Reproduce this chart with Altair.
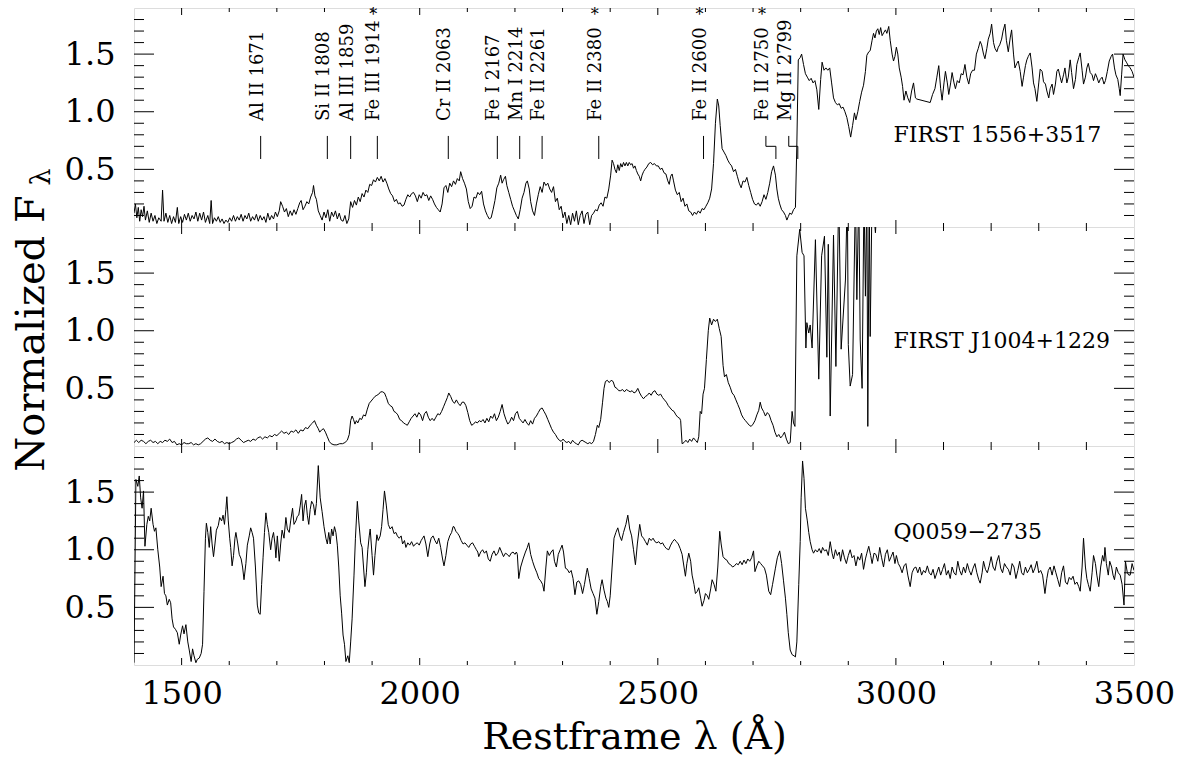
import altair as alt
import pandas as pd

# ---------------- data ----------------
spec1 = [
(1400,0.12),(1403,0.20),(1406,0.08),(1409,0.17),(1412,0.05),(1415,0.15),(1418,0.09),(1421,0.18),(1424,0.06),(1428,0.14),
(1432,0.04),(1436,0.12),(1440,0.05),(1444,0.10),(1448,0.03),(1452,0.08),(1457,0.05),(1460,0.32),(1463,0.05),(1467,0.12),
(1471,0.04),(1475,0.10),(1479,0.03),(1483,0.09),(1487,0.04),(1491,0.17),(1494,0.03),(1498,0.09),(1502,0.04),(1506,0.11),
(1510,0.06),(1514,0.12),(1518,0.05),(1522,0.10),(1526,0.07),(1530,0.13),(1534,0.05),(1538,0.12),(1542,0.06),(1546,0.13),
(1550,0.04),(1555,0.10),(1559,0.03),(1562,0.23),(1565,0.03),(1569,0.08),(1573,0.05),(1577,0.09),(1581,0.04),(1585,0.07),
(1589,0.03),(1593,0.06),(1597,0.04),(1601,0.08),(1605,0.05),(1609,0.10),(1613,0.05),(1617,0.09),(1621,0.06),(1625,0.11),
(1629,0.05),(1633,0.10),(1637,0.07),(1641,0.12),(1645,0.05),(1649,0.09),(1653,0.06),(1657,0.11),(1661,0.05),(1665,0.10),
(1669,0.06),(1673,0.09),(1677,0.04),(1681,0.12),(1685,0.06),(1689,0.10),(1693,0.07),(1697,0.13),(1701,0.09),(1705,0.14),
(1708,0.22),(1712,0.18),(1716,0.13),(1720,0.16),(1724,0.09),(1728,0.14),(1732,0.10),(1736,0.15),(1740,0.11),(1744,0.16),
(1748,0.21),(1751,0.23),(1755,0.15),(1759,0.18),(1763,0.22),(1767,0.20),(1771,0.26),(1775,0.30),(1777,0.36),(1780,0.27),
(1783,0.24),(1787,0.14),(1791,0.10),(1795,0.06),(1799,0.13),(1803,0.08),(1807,0.15),(1811,0.05),(1815,0.13),(1819,0.09),
(1823,0.14),(1827,0.07),(1831,0.12),(1835,0.06),(1839,0.05),(1843,0.10),(1847,0.03),(1851,0.07),(1855,0.22),(1859,0.17),
(1863,0.23),(1867,0.19),(1871,0.26),(1875,0.22),(1879,0.29),(1883,0.26),(1887,0.32),(1891,0.30),(1895,0.37),(1899,0.36),
(1903,0.41),(1907,0.39),(1911,0.43),(1915,0.40),(1919,0.44),(1923,0.39),(1927,0.42),(1931,0.38),(1935,0.33),(1939,0.29),
(1943,0.27),(1947,0.22),(1951,0.24),(1955,0.20),(1959,0.21),(1963,0.18),(1967,0.19),(1971,0.24),(1975,0.28),(1979,0.26),
(1983,0.29),(1987,0.30),(1991,0.27),(1995,0.22),(1999,0.28),(2003,0.25),(2007,0.30),(2011,0.27),(2015,0.28),(2019,0.23),
(2023,0.27),(2027,0.24),(2031,0.20),(2035,0.17),(2039,0.15),(2043,0.13),(2047,0.20),(2051,0.34),(2055,0.36),(2059,0.30),
(2063,0.38),(2067,0.35),(2071,0.40),(2075,0.37),(2079,0.42),(2083,0.40),(2086,0.48),(2090,0.42),(2094,0.38),(2098,0.33),
(2102,0.22),(2106,0.16),(2110,0.18),(2114,0.26),(2118,0.25),(2122,0.30),(2126,0.28),(2130,0.31),(2134,0.20),(2138,0.14),
(2142,0.10),(2146,0.07),(2150,0.08),(2154,0.15),(2158,0.23),(2162,0.34),(2166,0.38),(2170,0.45),(2173,0.38),(2176,0.41),
(2180,0.44),(2183,0.36),(2187,0.30),(2191,0.24),(2195,0.18),(2199,0.14),(2203,0.10),(2207,0.07),(2211,0.15),(2215,0.25),
(2219,0.30),(2223,0.38),(2226,0.40),(2230,0.33),(2233,0.22),(2237,0.14),(2241,0.10),(2245,0.20),(2249,0.28),(2253,0.35),
(2257,0.30),(2261,0.39),(2265,0.36),(2269,0.38),(2273,0.33),(2277,0.30),(2281,0.35),(2285,0.22),(2289,0.25),(2293,0.15),
(2297,0.18),(2301,0.08),(2305,0.13),(2309,0.03),(2313,0.10),(2317,0.02),(2321,0.12),(2325,0.05),(2329,0.14),(2333,0.02),
(2337,0.10),(2341,0.14),(2345,0.03),(2349,0.11),(2353,0.13),(2357,0.02),(2361,0.10),(2365,0.12),(2369,0.15),(2373,0.14),
(2377,0.19),(2381,0.21),(2385,0.18),(2389,0.26),(2393,0.25),(2397,0.33),(2401,0.45),(2404,0.58),(2407,0.55),(2410,0.50),
(2413,0.47),(2416,0.54),(2419,0.49),(2422,0.55),(2425,0.52),(2428,0.56),(2431,0.53),(2434,0.56),(2437,0.53),(2440,0.56),
(2443,0.54),(2446,0.55),(2449,0.51),(2452,0.53),(2455,0.49),(2458,0.46),(2461,0.44),(2464,0.40),(2467,0.45),(2470,0.48),
(2473,0.50),(2477,0.52),(2481,0.55),(2485,0.56),(2489,0.54),(2493,0.55),(2497,0.53),(2501,0.53),(2505,0.50),(2509,0.51),
(2513,0.47),(2517,0.46),(2521,0.40),(2524,0.37),(2527,0.44),(2530,0.46),(2533,0.40),(2537,0.32),(2541,0.28),(2545,0.30),
(2549,0.22),(2553,0.25),(2557,0.18),(2561,0.20),(2565,0.14),(2569,0.13),(2573,0.10),(2577,0.13),(2581,0.11),(2585,0.14),
(2589,0.12),(2593,0.16),(2597,0.15),(2601,0.18),(2605,0.21),(2609,0.25),(2613,0.33),(2617,0.55),(2621,0.90),(2625,1.11),
(2628,1.05),(2631,0.88),(2635,0.68),(2639,0.65),(2643,0.62),(2647,0.58),(2651,0.55),(2655,0.53),(2659,0.48),(2663,0.50),
(2667,0.44),(2671,0.38),(2675,0.34),(2679,0.40),(2683,0.39),(2687,0.43),(2691,0.36),(2695,0.30),(2699,0.24),(2703,0.20),
(2707,0.19),(2711,0.21),(2715,0.18),(2719,0.22),(2723,0.28),(2727,0.24),(2731,0.30),(2735,0.38),(2739,0.48),(2743,0.53),
(2747,0.45),(2750,0.33),(2753,0.25),(2756,0.20),(2760,0.15),(2764,0.13),(2768,0.10),(2771,0.06),(2774,0.09),(2777,0.12),
(2781,0.11),(2785,0.15),(2789,0.17),(2792,0.72),(2795,1.45),(2799,1.47),(2802,1.50),(2806,1.41),(2810,1.33),(2814,1.30),
(2818,1.27),(2822,1.29),(2826,1.25),(2830,1.27),(2834,1.19),(2838,1.02),(2842,1.28),(2845,1.43),(2849,1.36),(2853,1.38),
(2857,1.36),(2861,1.38),(2865,1.25),(2869,1.12),(2873,1.08),(2877,1.06),(2881,1.07),(2885,1.03),(2889,1.04),(2893,1.00),
(2897,0.95),(2901,0.87),(2905,0.78),(2909,0.88),(2913,0.99),(2916,0.93),(2920,1.00),(2924,1.09),(2928,1.17),(2932,1.23),
(2936,1.35),(2939,1.49),(2943,1.52),(2946,1.53),(2950,1.62),(2953,1.68),(2956,1.64),(2959,1.70),(2962,1.72),(2965,1.67),
(2968,1.73),(2971,1.66),(2975,1.69),(2978,1.71),(2981,1.68),(2985,1.74),(2988,1.62),(2992,1.50),(2995,1.44),(2998,1.48),
(3001,1.56),(3004,1.50),(3007,1.38),(3011,1.30),(3014,1.22),(3017,1.10),(3021,1.18),(3025,1.12),(3029,1.08),(3033,1.18),
(3037,1.25),(3041,1.12),(3044,1.11),(3072,1.08),(3077,1.15),(3082,1.20),(3086,1.30),(3090,1.40),(3094,1.20),(3097,1.10),
(3101,1.25),(3104,1.35),(3108,1.25),(3111,1.15),(3115,1.25),(3118,1.34),(3122,1.25),(3125,1.20),(3129,1.27),(3133,1.25),
(3137,1.33),(3141,1.32),(3145,1.41),(3149,1.30),(3153,1.24),(3157,1.33),(3161,1.36),(3165,1.36),(3169,1.50),(3173,1.55),
(3177,1.61),(3180,1.58),(3184,1.50),(3187,1.46),(3191,1.55),(3194,1.63),(3198,1.68),(3201,1.76),(3205,1.60),(3208,1.55),
(3212,1.52),(3215,1.56),(3218,1.58),(3222,1.63),(3225,1.70),(3229,1.76),(3232,1.62),(3236,1.52),(3240,1.64),(3243,1.71),
(3247,1.50),(3250,1.38),(3254,1.42),(3257,1.44),(3261,1.35),(3265,1.22),(3268,1.30),(3272,1.40),(3275,1.45),(3278,1.48),
(3282,1.51),(3286,1.38),(3289,1.25),(3292,1.20),(3296,1.09),(3300,1.25),(3303,1.37),(3307,1.35),(3310,1.26),(3314,1.24),
(3317,1.18),(3321,1.12),(3324,1.20),(3328,1.24),(3331,1.15),(3335,1.24),(3338,1.35),(3341,1.37),(3345,1.30),(3348,1.25),
(3352,1.32),(3355,1.38),(3359,1.25),(3362,1.30),(3366,1.45),(3369,1.34),(3373,1.20),(3377,1.28),(3380,1.41),(3384,1.47),
(3387,1.51),(3391,1.36),(3394,1.24),(3398,1.30),(3401,1.38),(3404,1.42),(3408,1.34),(3412,1.32),(3415,1.27),(3419,1.33),
(3422,1.30),(3426,1.25),(3429,1.28),(3433,1.30),(3437,1.24),(3440,1.27),(3444,1.35),(3448,1.44),(3452,1.48),(3455,1.50),
(3459,1.38),(3462,1.32),(3466,1.28),(3469,1.20),(3471,1.14),(3474,1.32),(3477,1.50),(3481,1.45),(3484,1.43),(3488,1.40),
(3492,1.38),(3496,1.35),(3500,1.30),
]

spec2 = [
(1400,0.03),(1405,0.05),(1410,0.03),(1415,0.05),(1420,0.04),(1425,0.02),(1430,0.04),(1435,0.05),(1440,0.03),(1445,0.04),
(1450,0.02),(1455,0.04),(1460,0.03),(1465,0.05),(1470,0.04),(1475,0.06),(1480,0.03),(1485,0.04),(1490,0.01),(1495,0.02),
(1500,0.01),(1505,0.03),(1510,0.02),(1515,0.02),(1520,0.03),(1525,0.01),(1530,0.02),(1535,0.01),(1540,0.02),(1545,0.04),
(1550,0.06),(1555,0.07),(1560,0.05),(1565,0.04),(1570,0.06),(1575,0.04),(1580,0.03),(1585,0.04),(1590,0.02),(1595,0.03),
(1600,0.02),(1605,0.03),(1610,0.04),(1615,0.06),(1620,0.07),(1625,0.05),(1630,0.03),(1635,0.04),(1640,0.05),(1645,0.04),
(1650,0.06),(1655,0.05),(1660,0.07),(1665,0.08),(1670,0.06),(1675,0.08),(1680,0.07),(1685,0.09),(1690,0.08),(1695,0.10),
(1700,0.09),(1705,0.11),(1710,0.13),(1715,0.11),(1720,0.12),(1725,0.10),(1730,0.13),(1735,0.12),(1740,0.14),(1745,0.11),
(1750,0.14),(1755,0.13),(1760,0.16),(1765,0.15),(1770,0.18),(1775,0.20),(1779,0.22),(1783,0.18),(1787,0.15),(1790,0.12),
(1794,0.14),(1798,0.15),(1802,0.12),(1806,0.08),(1810,0.04),(1814,0.02),(1820,0.01),(1826,0.01),(1832,0.02),(1838,0.02),
(1843,0.03),(1848,0.05),(1852,0.10),(1855,0.22),(1858,0.26),(1861,0.23),(1864,0.19),(1867,0.22),(1870,0.20),(1874,0.24),
(1878,0.23),(1882,0.27),(1886,0.26),(1890,0.32),(1894,0.37),(1898,0.39),(1902,0.41),(1906,0.43),(1910,0.44),(1914,0.45),
(1918,0.47),(1922,0.47),(1926,0.46),(1930,0.42),(1934,0.37),(1938,0.35),(1942,0.34),(1946,0.30),(1950,0.29),(1954,0.27),
(1958,0.23),(1962,0.22),(1966,0.20),(1970,0.19),(1974,0.18),(1978,0.21),(1982,0.24),(1986,0.26),(1990,0.28),(1994,0.25),
(1998,0.29),(2002,0.27),(2006,0.22),(2010,0.28),(2014,0.30),(2018,0.25),(2022,0.22),(2026,0.24),(2030,0.22),(2034,0.25),
(2038,0.28),(2042,0.27),(2046,0.30),(2050,0.34),(2054,0.38),(2058,0.42),(2061,0.46),(2065,0.43),(2069,0.39),(2073,0.37),
(2077,0.40),(2081,0.37),(2085,0.35),(2089,0.38),(2093,0.38),(2097,0.35),(2101,0.29),(2105,0.22),(2109,0.18),(2113,0.19),
(2117,0.21),(2121,0.20),(2125,0.22),(2129,0.21),(2133,0.23),(2137,0.20),(2141,0.24),(2145,0.21),(2149,0.26),(2153,0.24),
(2157,0.28),(2161,0.22),(2165,0.25),(2169,0.30),(2173,0.36),(2177,0.28),(2181,0.23),(2185,0.19),(2189,0.21),(2193,0.25),
(2197,0.22),(2201,0.28),(2205,0.30),(2209,0.24),(2213,0.22),(2217,0.20),(2221,0.23),(2225,0.20),(2229,0.18),(2233,0.22),
(2237,0.19),(2241,0.24),(2245,0.26),(2249,0.29),(2253,0.32),(2257,0.33),(2261,0.30),(2265,0.27),(2269,0.23),(2273,0.19),
(2277,0.15),(2281,0.12),(2285,0.10),(2289,0.07),(2293,0.05),(2297,0.04),(2301,0.06),(2305,0.04),(2309,0.03),(2313,0.04),
(2317,0.02),(2321,0.05),(2325,0.03),(2329,0.02),(2333,0.01),(2337,0.04),(2341,0.05),(2345,0.04),(2349,0.03),(2353,0.02),
(2357,0.03),(2361,0.02),(2365,0.04),(2369,0.10),(2373,0.18),(2376,0.16),(2380,0.23),(2384,0.38),(2387,0.50),(2390,0.56),
(2394,0.57),(2398,0.55),(2402,0.57),(2406,0.56),(2410,0.51),(2414,0.50),(2418,0.48),(2422,0.48),(2426,0.49),(2430,0.47),
(2434,0.49),(2438,0.48),(2442,0.47),(2446,0.48),(2450,0.46),(2454,0.47),(2458,0.50),(2462,0.46),(2466,0.43),(2470,0.41),
(2474,0.43),(2478,0.44),(2482,0.46),(2486,0.44),(2490,0.47),(2494,0.48),(2498,0.45),(2502,0.44),(2506,0.45),(2510,0.42),
(2514,0.40),(2518,0.38),(2522,0.35),(2526,0.33),(2530,0.31),(2534,0.30),(2538,0.27),(2542,0.25),(2546,0.24),(2548,0.22),
(2551,0.02),(2555,0.03),(2559,0.05),(2563,0.03),(2567,0.06),(2571,0.04),(2575,0.07),(2579,0.05),(2583,0.03),(2586,0.08),
(2589,0.30),(2592,0.28),(2595,0.45),(2598,0.50),(2602,0.75),(2606,1.00),(2609,1.11),(2613,1.05),(2617,1.10),(2621,1.08),
(2625,1.10),(2629,1.02),(2633,0.95),(2637,0.70),(2640,0.60),(2644,0.62),(2648,0.55),(2652,0.51),(2656,0.46),(2660,0.44),
(2664,0.40),(2668,0.36),(2672,0.32),(2676,0.27),(2680,0.24),(2684,0.22),(2688,0.20),(2692,0.18),(2696,0.17),(2700,0.19),
(2704,0.22),(2708,0.27),(2712,0.31),(2715,0.38),(2718,0.33),(2722,0.30),(2726,0.26),(2730,0.29),(2734,0.27),(2738,0.22),
(2742,0.18),(2746,0.12),(2750,0.08),(2754,0.10),(2758,0.07),(2762,0.09),(2766,0.12),(2770,0.06),(2774,0.02),(2778,0.03),
(2782,0.30),(2785,0.20),(2788,0.17),(2792,1.65),(2798,1.88),(2803,1.68),(2807,1.65),(2811,0.85),(2813,1.07),(2817,0.98),
(2820,1.05),(2824,0.85),(2831,1.79),(2838,0.58),(2844,1.65),(2850,1.82),(2855,0.77),(2858,1.75),(2862,0.26),(2869,1.83),
(2874,0.69),(2880,2.2),(2885,0.84),(2894,1.44),(2898,2.2),(2900,0.88),(2904,0.52),(2909,0.62),(2915,2.2),(2918,1.27),
(2922,2.2),(2925,0.92),(2929,0.50),(2933,2.2),(2936,1.30),(2939,2.2),(2941,0.17),(2944,2.2),(2946,0.95),(2950,2.2),
(2957,1.85),(2962,2.2),
]

spec3 = [
(1400,0.02),(1404,1.61),(1408,1.55),(1411,1.64),(1414,1.45),(1417,1.36),(1420,1.51),(1423,1.03),(1427,1.22),(1430,1.29),
(1433,1.25),(1436,1.36),(1440,1.22),(1443,1.16),(1446,1.19),(1450,1.00),(1454,0.85),(1457,0.68),(1461,0.77),(1464,0.62),
(1467,0.60),(1470,0.52),(1474,0.57),(1477,0.54),(1480,0.40),(1483,0.33),(1487,0.31),(1491,0.28),(1495,0.18),(1498,0.26),
(1502,0.34),(1505,0.27),(1509,0.35),(1513,0.20),(1516,0.13),(1520,0.03),(1523,0.14),(1526,0.08),(1530,0.02),(1533,0.05),
(1537,0.06),(1541,0.10),(1544,0.18),(1547,0.64),(1550,1.10),(1552,1.23),(1555,1.15),(1558,1.02),(1561,1.20),(1564,1.05),
(1567,0.94),(1570,1.05),(1573,1.17),(1577,1.21),(1580,1.28),(1584,1.25),(1587,1.30),(1590,1.22),(1593,1.35),(1595,1.46),
(1598,1.25),(1601,1.10),(1603,1.02),(1606,0.86),(1609,0.95),(1612,1.10),(1614,1.15),(1618,1.05),(1621,0.96),(1625,0.92),
(1628,0.85),(1631,0.74),(1635,0.88),(1638,1.04),(1642,1.12),(1645,1.19),(1648,1.15),(1651,1.10),(1655,0.85),(1659,0.52),
(1662,0.45),(1665,0.44),(1668,0.70),(1671,0.93),(1674,1.15),(1677,1.32),(1680,1.22),(1683,1.15),(1687,1.00),(1690,1.10),
(1693,1.15),(1696,1.05),(1698,0.93),(1701,1.12),(1705,0.90),(1708,1.05),(1711,1.17),(1715,1.10),(1719,1.28),(1722,1.18),
(1726,1.15),(1729,1.25),(1733,1.36),(1736,1.22),(1740,1.25),(1743,1.29),(1746,1.30),(1749,1.38),(1752,1.48),(1755,1.25),
(1758,1.38),(1761,1.43),(1764,1.30),(1767,1.22),(1770,1.35),(1773,1.42),(1777,1.39),(1780,1.30),(1783,1.40),(1787,1.73),
(1791,1.45),(1795,1.33),(1799,1.20),(1803,1.10),(1806,1.05),(1809,1.15),(1812,1.05),(1815,1.18),(1818,1.12),(1821,1.20),
(1824,1.15),(1827,1.04),(1830,0.85),(1833,0.60),(1836,0.45),(1839,0.26),(1842,0.18),(1845,0.03),(1849,0.08),(1852,0.02),
(1855,0.20),(1858,0.40),(1862,0.78),(1865,1.10),(1869,1.42),(1872,1.25),(1876,1.06),(1879,1.02),(1882,0.85),(1885,0.68),
(1888,0.80),(1891,1.00),(1894,1.12),(1896,1.18),(1900,0.95),(1903,0.78),(1906,0.95),(1910,1.13),(1913,1.08),(1917,1.12),
(1920,1.20),(1923,1.35),(1926,1.51),(1930,1.38),(1934,1.22),(1938,1.18),(1942,1.20),(1946,1.14),(1950,1.15),(1953,1.12),
(1957,1.10),(1961,1.12),(1964,1.05),(1968,1.08),(1971,1.02),(1975,1.06),(1979,1.04),(1983,1.07),(1987,1.03),(1991,1.05),
(1995,1.06),(1999,1.04),(2003,1.08),(2006,1.10),(2009,1.12),(2013,1.05),(2017,0.94),(2021,1.05),(2024,1.10),(2028,1.12),
(2032,1.08),(2036,1.05),(2040,1.10),(2044,1.02),(2048,0.92),(2051,0.86),(2055,0.95),(2059,1.07),(2063,1.12),(2067,1.15),
(2070,1.20),(2072,1.20),(2076,1.16),(2080,1.14),(2083,1.12),(2087,1.08),(2091,1.05),(2095,1.06),(2099,1.04),(2103,1.02),
(2107,1.05),(2111,1.06),(2115,1.03),(2119,1.00),(2122,0.98),(2124,0.94),(2128,0.98),(2132,1.00),(2136,0.97),(2140,0.99),
(2144,0.92),(2148,0.90),(2152,0.96),(2156,0.99),(2160,0.95),(2164,0.97),(2168,1.02),(2172,0.98),(2176,0.94),(2180,0.97),
(2184,0.96),(2188,0.94),(2192,0.97),(2196,0.98),(2200,0.96),(2203,0.98),(2205,0.96),(2208,0.75),(2212,0.85),(2217,0.92),
(2222,0.98),(2226,1.02),(2229,1.06),(2233,0.96),(2237,0.90),(2241,0.85),(2246,0.80),(2250,0.75),(2254,0.73),(2258,0.70),
(2261,0.64),(2265,0.85),(2268,0.99),(2272,0.95),(2276,0.98),(2280,1.00),(2283,0.90),(2287,0.85),(2291,0.96),(2295,1.00),
(2299,1.04),(2302,0.98),(2306,0.84),(2310,0.83),(2314,0.80),(2318,0.82),(2322,0.75),(2326,0.61),(2330,0.72),(2334,0.73),
(2338,0.70),(2342,0.62),(2346,0.70),(2350,0.80),(2352,0.84),(2356,0.75),(2360,0.66),(2364,0.62),(2368,0.58),(2372,0.44),
(2376,0.55),(2380,0.68),(2383,0.74),(2387,0.65),(2391,0.58),(2394,0.55),(2397,0.50),(2400,0.60),(2404,0.85),(2408,1.10),
(2412,1.15),(2416,1.19),(2420,1.12),(2424,1.08),(2428,1.15),(2433,1.22),(2437,1.30),(2441,1.18),(2445,1.12),(2449,1.00),
(2453,0.87),(2457,1.05),(2462,1.22),(2466,1.12),(2470,1.10),(2474,1.07),(2478,1.04),(2482,1.10),(2486,1.08),(2490,1.10),
(2494,1.07),(2498,1.06),(2502,1.07),(2506,1.05),(2510,1.06),(2514,1.03),(2518,1.01),(2523,1.00),(2527,1.04),(2531,1.07),
(2535,1.09),(2539,1.07),(2543,1.05),(2547,1.01),(2551,0.96),(2555,0.85),(2558,0.77),(2561,0.88),(2565,0.97),(2569,0.90),
(2572,0.78),(2576,0.70),(2579,0.62),(2583,0.64),(2586,0.67),(2590,0.58),(2593,0.51),(2597,0.56),(2600,0.62),(2604,0.60),
(2607,0.57),(2611,0.66),(2614,0.74),(2618,0.70),(2622,0.64),(2626,0.85),(2630,1.16),(2633,1.05),(2637,0.94),(2641,0.92),
(2645,0.91),(2649,0.88),(2653,0.87),(2657,0.85),(2661,0.86),(2665,0.88),(2669,0.87),(2673,0.90),(2677,0.87),(2681,0.91),
(2685,0.88),(2689,0.92),(2693,0.90),(2697,0.93),(2701,0.99),(2704,0.81),(2708,0.86),(2712,0.90),(2716,0.88),(2720,0.86),
(2724,0.84),(2728,0.78),(2733,0.64),(2737,0.61),(2741,0.70),(2747,0.84),(2751,0.93),(2756,0.99),(2760,0.88),(2764,0.73),
(2768,0.58),(2771,0.44),(2774,0.28),(2778,0.13),(2782,0.09),(2786,0.08),(2789,0.07),(2792,0.20),(2796,0.70),(2799,1.07),
(2801,1.45),(2804,1.77),(2807,1.62),(2810,1.36),(2814,1.25),(2817,1.15),(2820,1.07),(2824,1.00),(2827,0.97),(2831,1.00),
(2835,0.98),(2839,1.01),(2843,0.97),(2846,1.02),(2850,0.99),(2854,1.00),(2858,0.95),(2862,1.07),(2866,0.97),(2869,0.92),
(2873,1.00),(2877,0.95),(2881,0.98),(2884,0.90),(2888,1.00),(2892,0.93),(2896,0.88),(2900,0.95),(2904,1.00),(2908,0.93),
(2912,0.95),(2916,0.86),(2920,0.94),(2924,0.91),(2928,0.97),(2932,0.83),(2936,0.92),(2939,0.97),(2943,1.03),(2947,0.95),
(2950,0.88),(2954,0.97),(2958,0.96),(2962,0.90),(2966,1.02),(2970,0.93),(2974,0.85),(2978,0.96),(2982,1.00),(2986,0.90),
(2990,0.94),(2994,0.98),(2998,0.88),(3001,0.95),(3005,0.88),(3009,0.85),(3013,0.80),(3017,0.86),(3021,0.88),(3025,0.78),
(3030,0.68),(3034,0.80),(3038,0.84),(3042,0.85),(3046,0.80),(3050,0.85),(3054,0.78),(3058,0.82),(3062,0.80),(3066,0.86),
(3070,0.80),(3074,0.78),(3078,0.83),(3082,0.75),(3086,0.80),(3090,0.85),(3094,0.78),(3098,0.83),(3102,0.88),(3106,0.78),
(3110,0.82),(3114,0.75),(3118,0.85),(3122,0.80),(3126,0.78),(3130,0.90),(3134,0.82),(3138,0.78),(3142,0.85),(3146,0.80),
(3150,0.88),(3154,0.82),(3158,0.78),(3162,0.84),(3166,0.88),(3170,0.80),(3174,0.74),(3177,0.71),(3181,0.80),(3184,0.90),
(3188,0.83),(3192,0.80),(3196,0.86),(3200,0.94),(3204,0.85),(3208,0.82),(3212,0.90),(3216,0.95),(3220,0.84),(3224,0.80),
(3228,0.88),(3232,0.85),(3236,0.83),(3240,0.78),(3244,0.88),(3248,0.85),(3252,0.75),(3256,0.82),(3260,0.90),(3264,0.80),
(3268,0.78),(3272,0.85),(3276,0.80),(3280,0.83),(3284,0.87),(3288,0.80),(3292,0.84),(3296,0.90),(3300,0.80),(3304,0.82),
(3308,0.78),(3313,0.62),(3317,0.75),(3320,0.82),(3324,0.85),(3328,0.78),(3332,0.86),(3336,0.80),(3340,0.74),(3344,0.68),
(3348,0.80),(3352,0.86),(3356,0.72),(3360,0.70),(3364,0.76),(3368,0.74),(3372,0.77),(3376,0.70),(3380,0.72),(3384,0.68),
(3387,0.64),(3391,0.85),(3394,1.10),(3398,0.85),(3401,0.75),(3404,0.70),(3408,0.64),(3412,0.80),(3415,0.95),(3419,0.88),
(3422,0.78),(3426,0.68),(3430,0.85),(3434,0.95),(3437,0.90),(3439,1.02),(3442,0.88),(3446,0.78),(3449,0.90),(3453,0.85),
(3456,0.78),(3459,0.74),(3463,0.85),(3467,0.80),(3471,0.78),(3475,0.70),(3479,0.52),(3482,0.90),(3486,0.80),(3489,0.78),
(3492,0.78),(3496,0.88),(3500,0.82),
]

panel_names = ["FIRST 1556+3517", "FIRST J1004+1229", "Q0059\u22122735"]
panel_name_level = [0.80, 0.91, 1.155]
panel_name_wl = 2995

line_labels = ["Al II 1671", "Si II 1808", "Al III 1859", "Fe III 1914", "Cr II 2063", "Fe I 2167",
               "Mn I 2214", "Fe II 2261", "Fe II 2380", "Fe II 2600", "Fe II 2750", "Mg II 2799"]
line_label_wl = [1666, 1806, 1855, 1911, 2060, 2163, 2210, 2257, 2376, 2596, 2727, 2775]
line_marked = [False, False, False, True, False, False, False, False, True, True, True, False]
label_base = 0.92
tick_lo, tick_hi, tick_mid = 0.59, 0.79, 0.70
bracket_end_wl = [2748, 2794]   # Fe II 2750 and Mg II 2799 markers are offset
star_level = 1.84

x_labels = [1500, 2000, 2500, 3000, 3500]
y_labels = [0.5, 1.0, 1.5]
x_ticks = list(range(1500, 3500, 100))
y_ticks = [round(0.1 * i, 1) for i in range(1, 19)]

# ---------------- layout / style ----------------
W, H = 1000, 219
XDOM = [1400, 3500]
YDOM = [0, 1.9]
FONT = "DejaVu Serif"
XMAJ, XMIN, YMAJ, YMIN = 7, 4, 20, 10

xs = alt.Scale(domain=XDOM, nice=False, zero=False)
ys = alt.Scale(domain=YDOM, nice=False, zero=False)


def make_panel(i, spec):
    df = pd.DataFrame(spec, columns=["wl", "flux"])
    if i == 2:
        xaxis = alt.Axis(values=x_labels, format="d", ticks=False, domain=False, grid=False,
                         labelFont=FONT, labelFontSize=32, labelColor="black", labelPadding=13,
                         labelFlush=False, labelOverlap=False,
                         title="Restframe \u03bb (\u00c5)", titleFont=FONT, titleFontSize=38,
                         titleFontWeight="normal", titleColor="black", titlePadding=9)
    else:
        xaxis = None
    yargs = dict(values=y_labels, format=".1f", ticks=False, domain=False, grid=False,
                 labelFont=FONT, labelFontSize=32, labelColor="black", labelPadding=19)
    if i == 1:
        yaxis = alt.Axis(title="Normalized F", titleFont=FONT, titleFontSize=40,
                         titleFontWeight="normal", titleColor="black", titleAngle=270,
                         titleX=-103, titleY=106, titleAlign="center", titleBaseline="middle", **yargs)
    else:
        yaxis = alt.Axis(title=None, **yargs)

    def X(field="wl"):
        return alt.X(f"{field}:Q", scale=xs, axis=xaxis)

    def Y(field="flux"):
        return alt.Y(f"{field}:Q", scale=ys, axis=yaxis)

    line = alt.Chart(df).mark_line(color="black", strokeWidth=1.0, clip=True).encode(x=X(), y=Y())
    name = alt.Chart(pd.DataFrame({"wl": [panel_name_wl], "flux": [panel_name_level[i]],
                                   "t": [panel_names[i]]})).mark_text(
        align="left", baseline="middle", font=FONT, fontSize=22, color="black").encode(
        x=X(), y=Y(), text="t:N")
    layers = [line, name]

    # inward ticks on all four sides
    xt = pd.DataFrame({"wl": x_ticks})
    xt["major"] = xt["wl"] % 500 == 0
    yt = pd.DataFrame({"flux": y_ticks})
    yt["major"] = yt["flux"].isin(y_labels)
    for major, ln in [(True, XMAJ), (False, XMIN)]:
        base = alt.Chart(xt[xt["major"] == major]).mark_rule(color="black", strokeWidth=1)
        layers.append(base.encode(x=X(), y=alt.value(H), y2=alt.value(H - ln)))
        layers.append(base.encode(x=X(), y=alt.value(0), y2=alt.value(ln)))
    for major, ln in [(True, YMAJ), (False, YMIN)]:
        base = alt.Chart(yt[yt["major"] == major]).mark_rule(color="black", strokeWidth=1)
        layers.append(base.encode(y=Y(), x=alt.value(0), x2=alt.value(ln)))
        layers.append(base.encode(y=Y(), x=alt.value(W), x2=alt.value(W - ln)))

    if i == 0:
        lab = pd.DataFrame({"wl": line_label_wl, "flux": label_base, "t": line_labels})
        layers.append(alt.Chart(lab).mark_text(angle=270, align="left", baseline="middle", dy=-3,
                                               font=FONT, fontSize=18, color="black").encode(
            x=X(), y=Y(), text="t:N"))
        stars = pd.DataFrame({"wl": [w for w, m in zip(line_label_wl, line_marked) if m]})
        stars["flux"] = star_level
        stars["t"] = "*"
        layers.append(alt.Chart(stars).mark_text(align="center", baseline="middle", dx=-4,
                                                 font=FONT, fontSize=16, color="black").encode(
            x=X(), y=Y(), text="t:N"))
        plain = pd.DataFrame({"wl": line_label_wl[:10]})
        plain["flux"] = tick_lo
        plain["hi"] = tick_hi
        layers.append(alt.Chart(plain).mark_rule(color="black", strokeWidth=1).encode(
            x=X(), y=Y(), y2="hi:Q"))
        rows = []
        for k, (w0, w1) in enumerate(zip(line_label_wl[10:], bracket_end_wl)):
            rows += [(k, 0, w0, tick_hi), (k, 1, w0, tick_mid), (k, 2, w1, tick_mid), (k, 3, w1, tick_lo)]
        br = pd.DataFrame(rows, columns=["g", "o", "wl", "flux"])
        layers.append(alt.Chart(br).mark_line(color="black", strokeWidth=1).encode(
            x=X(), y=Y(), detail="g:N", order="o:Q"))
        sub = pd.DataFrame({"t": ["\u03bb"]})
        layers.append(alt.Chart(sub).mark_text(angle=270, align="center", baseline="middle",
                                               font=FONT, fontSize=27, color="black").encode(
            x=alt.value(-92), y=alt.value(169), text="t:N"))
    return alt.layer(*layers).properties(width=W, height=H)


panels = [make_panel(i, s) for i, s in enumerate([spec1, spec2, spec3])]
chart = alt.vconcat(*panels, spacing=0, bounds="flush").properties(
    padding={"left": 10, "top": 6, "right": 5, "bottom": 5}
).configure_view(stroke="black", strokeWidth=1).configure(background="white")

chart.save("out.html", embed_options={"renderer": "svg", "actions": False})
